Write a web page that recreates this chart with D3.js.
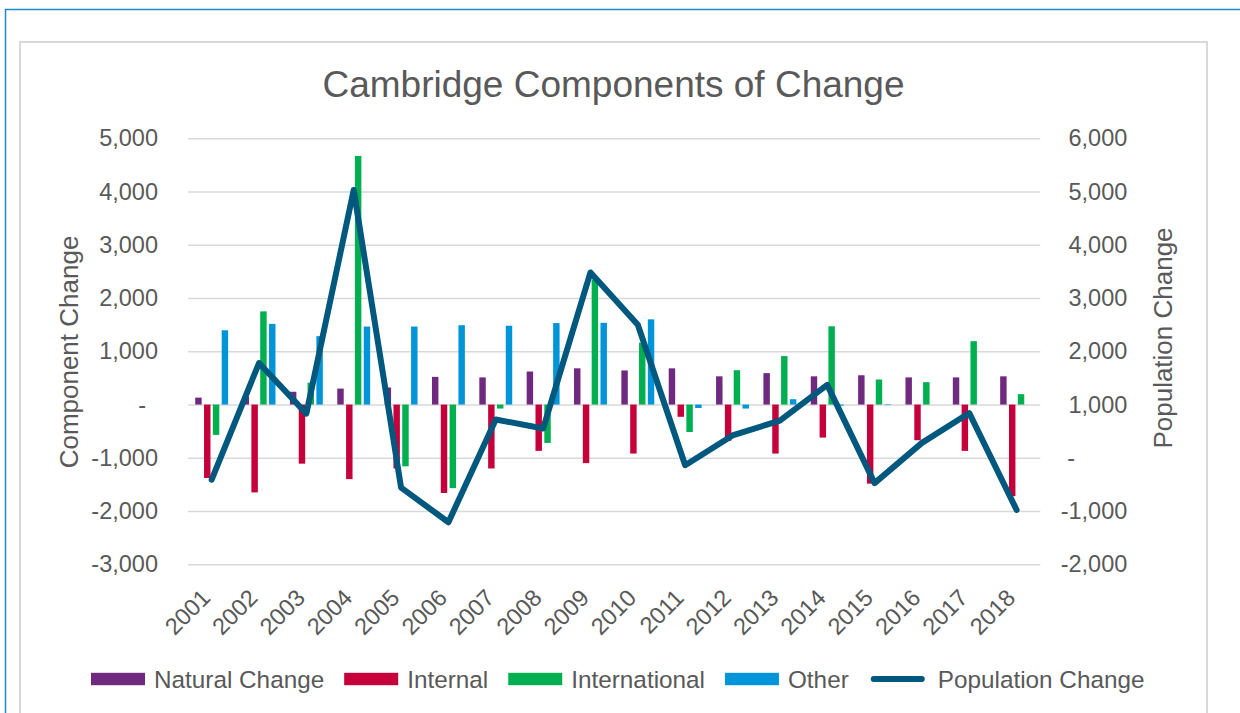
<!DOCTYPE html>
<html>
<head>
<meta charset="utf-8">
<script src="https://cdn.jsdelivr.net/npm/d3@7"></script>
<style>
  html, body { margin: 0; padding: 0; background: #fff; }
  svg { display: block; font-family: "Liberation Sans", Arial, sans-serif; }
</style>
</head>
<body>
<svg id="chart" width="1240" height="713"></svg>
<script>
// Cambridge components of population change, 2001-2018
const years = ["2001","2002","2003","2004","2005","2006","2007","2008","2009",
               "2010","2011","2012","2013","2014","2015","2016","2017","2018"];
const naturalChange = [130, 150, 240, 300, 320, 520, 510, 620, 680, 640, 680, 530, 590, 530, 550, 510, 510, 530];
const internal = [-1380, -1650, -1110, -1400, -1200, -1660, -1200, -870, -1100, -920, -230, -680, -920, -620, -1485, -670, -870, -1720];
const international = [-570, 1750, 410, 4670, -1160, -1570, -75, -720, 2350, 1160, -515, 645, 910, 1470, 470, 420, 1190, 195];
const other = [1395, 1515, 1285, 1465, 1465, 1490, 1480, 1530, 1535, 1600, -65, -75, 100, -20, -10, 0, 0, 0];
const populationChange = [-410, 1780, 830, 5030, -560, -1210, 720, 550, 3480, 2500, -140, 420, 700, 1370, -475, 280, 840, -980];

const leftTicks = [-3000, -2000, -1000, 0, 1000, 2000, 3000, 4000, 5000];
const rightTicks = [-2000, -1000, 0, 1000, 2000, 3000, 4000, 5000, 6000];

const seriesNames = ["Natural Change", "Internal", "International", "Other"];
const seriesValues = [naturalChange, internal, international, other];
const seriesColors = ["#6F2A7F", "#C5003B", "#00AF50", "#0095D9"];
const lineName = "Population Change";
const lineColor = "#00587E";
const textColor = "#595959";
const gridColor = "#D9D9D9";

const svg = d3.select("#chart");

// frames
svg.append("rect").attr("x", 5.5).attr("y", 9.5).attr("width", 1250).attr("height", 720)
  .attr("fill", "none").attr("stroke", "#1A8CCC").attr("stroke-width", 1.5);
svg.append("rect").attr("x", 20).attr("y", 42).attr("width", 1187).attr("height", 700)
  .attr("fill", "#fff").attr("stroke", gridColor).attr("stroke-width", 2);

const plot = { left: 188, right: 1040.3, top: 138.3, bottom: 564.3 };

const x = d3.scaleBand().domain(years).range([plot.left, plot.right]).padding(0);
const yL = d3.scaleLinear().domain([-3000, 5000]).range([plot.bottom, plot.top]);
const yR = d3.scaleLinear().domain([-2000, 6000]).range([plot.bottom, plot.top]);
const sub = d3.scaleBand().domain(seriesNames).range([-17.6, 17.6]).paddingInner(0.27).paddingOuter(0.13);

// plain hyphen for negatives, a dash for zero
const locale = d3.formatLocale({ decimal: ".", thousands: ",", grouping: [3], currency: ["", ""], minus: "-" });
const fmt = locale.format(",");
const tickText = d => d === 0 ? "-" : fmt(d);

// gridlines
svg.append("g")
  .attr("transform", `translate(${plot.left},0)`)
  .call(d3.axisLeft(yL).tickValues(leftTicks).tickSize(-(plot.right - plot.left)).tickFormat(""))
  .call(g => g.select(".domain").remove())
  .call(g => g.selectAll("line").attr("stroke", gridColor).attr("stroke-width", 1.6));

// title
svg.append("text").attr("x", 613.5).attr("y", 97).attr("text-anchor", "middle")
  .attr("font-size", 37).attr("fill", textColor).text("Cambridge Components of Change");

// left axis labels
const leftAxis = svg.append("g")
  .attr("transform", `translate(${plot.left},0)`)
  .call(d3.axisLeft(yL).tickValues(leftTicks).tickSize(0).tickPadding(30).tickFormat(tickText));
leftAxis.select(".domain").remove();
leftAxis.selectAll("text").attr("font-size", 23.5).attr("fill", textColor)
  .attr("font-family", "Liberation Sans, Arial, sans-serif")
  .attr("x", d => d === 0 ? -42 : -30);

// right axis labels
const rightAxis = svg.append("g")
  .attr("transform", `translate(${plot.right},0)`)
  .call(d3.axisRight(yR).tickValues(rightTicks).tickSize(0).tickFormat(tickText));
rightAxis.select(".domain").remove();
rightAxis.selectAll("text").attr("font-size", 23.5).attr("fill", textColor)
  .attr("font-family", "Liberation Sans, Arial, sans-serif")
  .attr("text-anchor", d => d === 0 ? "start" : "end")
  .attr("x", d => d === 0 ? 27 : 87);

// axis titles
svg.append("text").attr("transform", "translate(78,352) rotate(-90)")
  .attr("text-anchor", "middle").attr("font-size", 26).attr("fill", textColor).text("Component Change");
svg.append("text").attr("transform", "translate(1172,338) rotate(-90)")
  .attr("text-anchor", "middle").attr("font-size", 26).attr("fill", textColor).text("Population Change");

// category labels
const xAxis = svg.append("g")
  .attr("transform", `translate(0,${plot.bottom})`)
  .call(d3.axisBottom(x).tickSize(0).tickPadding(0));
xAxis.select(".domain").remove();
xAxis.selectAll("text")
  .attr("font-size", 23.5).attr("fill", textColor)
  .attr("font-family", "Liberation Sans, Arial, sans-serif")
  .attr("text-anchor", "end")
  .attr("dy", null).attr("y", null)
  .attr("transform", "translate(0,35) rotate(-45)");

// bars
const barData = [];
years.forEach((yr, i) => {
  seriesNames.forEach((s, j) => barData.push({ yr, s, v: seriesValues[j][i], c: seriesColors[j] }));
});
svg.append("g").selectAll("rect").data(barData).join("rect")
  .attr("x", d => x(d.yr) + x.bandwidth() / 2 + sub(d.s))
  .attr("width", sub.bandwidth())
  .attr("y", d => Math.min(yL(d.v), yL(0)))
  .attr("height", d => Math.abs(yL(d.v) - yL(0)))
  .attr("fill", d => d.c);

// population change line
const line = d3.line()
  .x((d, i) => x(years[i]) + x.bandwidth() / 2)
  .y(d => yR(d));
svg.append("path").datum(populationChange)
  .attr("d", line).attr("fill", "none").attr("stroke", lineColor)
  .attr("stroke-width", 6).attr("stroke-linejoin", "round").attr("stroke-linecap", "round");

// legend
const legend = svg.append("g");
let lx = 91;
const ly = 679;
const items = seriesNames.map((n, j) => ({ n, c: seriesColors[j], type: "bar" }))
  .concat([{ n: lineName, c: lineColor, type: "line" }]);
items.forEach(it => {
  let textOffset = 63;
  if (it.type === "bar") {
    legend.append("rect").attr("x", lx).attr("y", ly - 6.2).attr("width", 54).attr("height", 12.4).attr("fill", it.c);
  } else {
    lx += 2;
    textOffset = 67;
    legend.append("line").attr("x1", lx + 3).attr("x2", lx + 51).attr("y1", ly).attr("y2", ly)
      .attr("stroke", it.c).attr("stroke-width", 6).attr("stroke-linecap", "round");
  }
  const t = legend.append("text").attr("x", lx + textOffset).attr("y", ly + 8.5)
    .attr("font-size", 24.3).attr("fill", textColor).text(it.n);
  lx += textOffset + t.node().getComputedTextLength() + 20;
});
</script>
</body>
</html>
